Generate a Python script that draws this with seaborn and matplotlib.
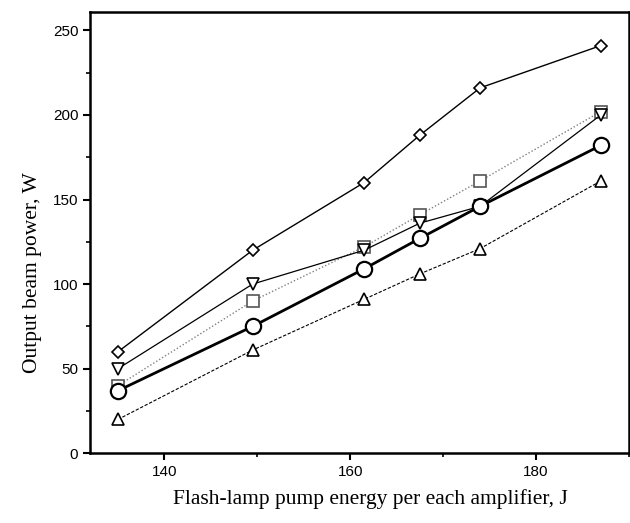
import pandas as pd
import matplotlib
matplotlib.use("Agg")
from matplotlib import pyplot as plt
from matplotlib.ticker import MultipleLocator
import seaborn as sns

# pump energy per amplifier, J
energy = [135, 149.5, 161.5, 167.5, 174, 187]

# output beam power, W, one list per curve
diamond = [60, 120, 160, 188, 216, 241]
tri_down = [50, 100, 120, 136, 146, 200]
square = [40, 90, 122, 141, 161, 202]
circle = [37, 75, 109, 127, 146, 182]
tri_up = [20, 61, 91, 106, 121, 161]

sns.set_style("ticks")
plt.rcParams["font.family"] = ["Liberation Sans Narrow", "Liberation Sans", "DejaVu Sans"]

fig = plt.figure(figsize=(6.3, 5.23), dpi=100)
ax = fig.add_axes([0.143, 0.1333, 0.855, 0.8443])

curves = [
    (square, "s", (0, (1, 1.5)), 1.0, "#808080", 8.5, "#555555"),
    (tri_up, "^", (0, (3, 1.5)), 0.8, "black", 8, "black"),
    (tri_down, "v", "-", 0.9, "black", 8, "black"),
    (diamond, "D", "-", 1.0, "black", 6.5, "black"),
    (circle, "o", "-", 2.0, "black", 11, "black"),
]
for ys, mk, ls, lw, col, ms, ec in curves:
    df = pd.DataFrame({"energy": energy, "power": ys})
    sns.lineplot(data=df, x="energy", y="power", ax=ax, color=col,
                 linestyle=ls, linewidth=lw, marker=mk, markersize=ms,
                 markerfacecolor="white", markeredgecolor=ec,
                 markeredgewidth=1.6 if mk == "o" else 1.2)

ax.set_xlim(132, 190)
ax.set_ylim(0, 261)
ax.set_xticks([140, 160, 180])
ax.set_yticks([0, 50, 100, 150, 200, 250])
ax.xaxis.set_minor_locator(MultipleLocator(10))
ax.yaxis.set_minor_locator(MultipleLocator(25))
ax.tick_params(which="major", direction="out", length=5, width=1.5,
               labelsize=11, color="black", labelcolor="black")
ax.tick_params(which="minor", direction="out", length=3, width=1.2, color="black")
for s in ax.spines.values():
    s.set_linewidth(1.8)
    s.set_color("black")
    s.set_visible(True)

ax.set_xlabel("Flash-lamp pump energy per each amplifier, J",
              family="Liberation Serif", fontsize=15.5, color="black")
ax.set_ylabel("Output beam power, W", family="Liberation Serif",
              fontsize=15.5, color="black")
ax.xaxis.set_label_coords(0.52, -0.08)
ax.yaxis.set_label_coords(-0.09, 0.41)

fig.savefig("out.png", dpi=100)
